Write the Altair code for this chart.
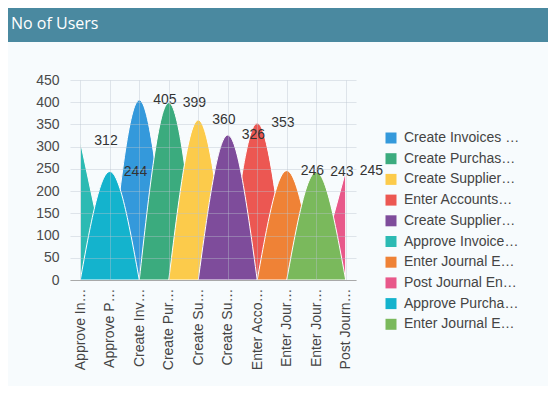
import altair as alt
import pandas as pd

# ---- data ----
categories = [
    "Approve Invoices",
    "Approve Purchase Orders",
    "Create Invoices Manually",
    "Create Purchase Orders",
    "Create Supplier Invoices",
    "Create Suppliers",
    "Enter Accounts Payable",
    "Enter Journal Entries",
    "Enter Journal Entries Batch",
    "Post Journal Entries",
]
axis_labels = [
    "Approve In…", "Approve P…", "Create Inv…", "Create Pur…", "Create Su…",
    "Create Su…", "Enter Acco…", "Enter Jour…", "Enter Jour…", "Post Journ…",
]
legend_labels = [
    "Approve Invoice…", "Approve Purcha…", "Create Invoices …", "Create Purchas…",
    "Create Supplier…", "Create Supplier…", "Enter Accounts…", "Enter Journal E…",
    "Enter Journal E…", "Post Journal En…",
]
users = [312, 244, 405, 399, 360, 326, 353, 246, 243, 245]
colors = [
    "#2cbab3", "#14b3cd", "#3499db", "#3bab7e", "#fccb4b",
    "#7e4c9b", "#ec5752", "#ef8236", "#7ab95c", "#e8588a",
]

FONT = "Liberation Sans"
BG = "#f7fbfd"
BAR = "#4a89a0"

# legend / drawing order: by value, largest first
legend_order = sorted(range(len(categories)), key=lambda i: -users[i])

rows = []
for rank, i in enumerate(legend_order):
    for j in (i - 1, i, i + 1):
        if 0 <= j < len(categories):
            rows.append({"series": categories[i], "xi": j,
                         "users": users[i] if j == i else 0})
area_df = pd.DataFrame(rows)
label_df = pd.DataFrame({"series": categories, "xi": list(range(len(categories))), "users": users})

def js_list(items):
    return "[" + ",".join("'" + s + "'" for s in items) + "]"

x_label_expr = js_list(axis_labels) + "[datum.value]"
legend_label_expr = js_list(legend_labels) + "[indexof(" + js_list(categories) + ", datum.label)]"

x_scale = alt.Scale(domain=[-0.35, len(categories) - 1 + 0.35], nice=False, zero=False)
y_scale = alt.Scale(domain=[0, 450], nice=False)

GRID = dict(gridColor="#b8c2cc", gridOpacity=0.4, gridWidth=1)

x_axis = alt.Axis(values=list(range(len(categories))), labelExpr=x_label_expr,
                  labelAngle=-90, ticks=False, labelPadding=8, grid=True,
                  labelOverlap=False, domainColor="#a9a9a9", domainWidth=1.2,
                  labelFont=FONT, labelFontSize=14, labelColor="#444444",
                  labelLimit=200, zindex=1, title=None, **GRID)
y_axis = alt.Axis(values=list(range(0, 451, 50)), ticks=False, domain=False,
                  labelOverlap=False, labelPadding=11, labelFont=FONT,
                  labelFontSize=14, labelColor="#4a4a4a", zindex=1, title=None, **GRID)

dummy = pd.DataFrame({"a": [0]})

title_bar = alt.Chart(dummy).mark_rect(fill=BAR).encode(
    x=alt.value(-62), x2=alt.value(478), y=alt.value(-72), y2=alt.value(-38))
page_fill = alt.Chart(dummy).mark_rect(fill=BG, opacity=0).encode(
    x=alt.value(-62), x2=alt.value(478), y=alt.value(300), y2=alt.value(306))
title_text = alt.Chart(dummy).mark_text(
    text="No of Users", font="Open Sans", fontSize=16, fill="white",
    align="left", baseline="alphabetic").encode(x=alt.value(-59), y=alt.value(-51))

areas = alt.Chart(area_df).mark_area(interpolate="monotone").encode(
    x=alt.X("xi:Q", scale=x_scale, axis=x_axis),
    y=alt.Y("users:Q", scale=y_scale, axis=y_axis, stack=None),
    fill=alt.Fill("series:N",
                  scale=alt.Scale(domain=[categories[i] for i in legend_order],
                                  range=[colors[i] for i in legend_order]),
                  legend=alt.Legend(title=None, orient="none", legendX=314, legendY=51,
                                    symbolType="square", symbolSize=121,
                                    symbolStrokeWidth=0, labelFont=FONT,
                                    labelFontSize=14, labelColor="#444444",
                                    labelOffset=6, rowPadding=6.7, padding=0,
                                    labelExpr=legend_label_expr, labelLimit=200)),
    stroke=alt.value("white"),
    strokeWidth=alt.value(1),
    fillOpacity=alt.value(1),
)

labels = alt.Chart(label_df).mark_text(
    align="left", baseline="middle", dx=14, font=FONT, fontSize=14, fill="#333333").encode(
    x=alt.X("xi:Q", scale=x_scale, axis=x_axis),
    y=alt.Y("users:Q", scale=y_scale, axis=y_axis),
    text=alt.Text("users:Q"),
)

chart = alt.layer(title_bar, page_fill, title_text, areas, labels).properties(
    width=286, height=200, padding=0, background=BG
).configure_view(stroke=None)

chart.save("out.html", embed_options={"renderer": "svg", "actions": False})
